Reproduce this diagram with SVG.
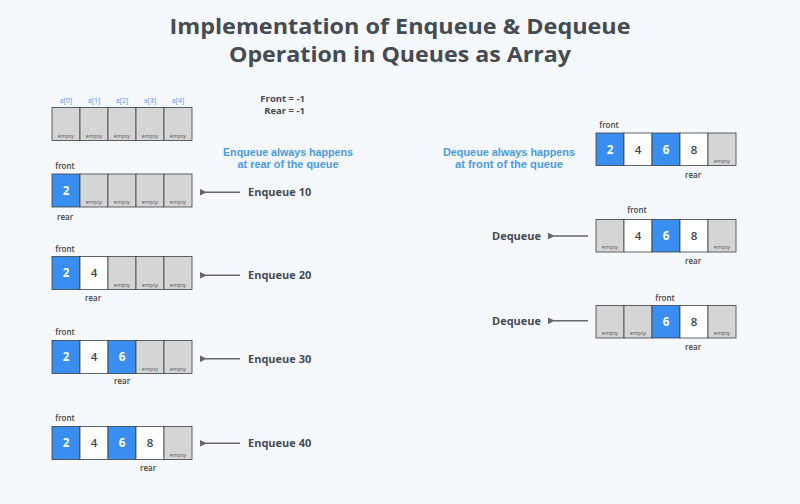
<svg xmlns="http://www.w3.org/2000/svg" width="800" height="504" viewBox="0 0 800 504">
<defs>
<style>
.bg{fill:#f5f8fd}
.c{stroke:#3a3f45;stroke-width:0.8}
.e{fill:#d5d5d5}
.b{fill:#3a8ef0}
.w{fill:#ffffff}
.t{font-family:"Open Sans","Liberation Sans",sans-serif}
.title{font-size:22px;font-weight:700;fill:#464b52;text-anchor:middle}
.idx{font-size:7px;fill:#4a9ae8;text-anchor:middle}
.emp{font-size:5.5px;fill:#555;text-anchor:middle}
.lab{font-size:8px;font-weight:600;fill:#444;text-anchor:middle}
.vb{font-size:11.5px;font-weight:700;fill:#fff;text-anchor:middle}
.vw{font-size:11.5px;font-weight:600;fill:#444;text-anchor:middle}
.op{font-size:11px;font-weight:700;fill:#464b52}
.fr{font-size:9.5px;font-weight:700;fill:#464b52;text-anchor:end}
.note{font-family:"Liberation Sans",Arial,sans-serif;font-size:10px;font-weight:700;fill:#4a9ae8;text-anchor:middle}
.arr{stroke:#666;stroke-width:1.5;fill:none}
</style>
<marker id="ah" markerWidth="8" markerHeight="8" refX="1" refY="4" orient="auto" markerUnits="userSpaceOnUse">
<path d="M0,4 L7,0.8 L7,7.2 Z" fill="#666"/>
</marker>
</defs>
<rect class="bg" x="0" y="0" width="800" height="504"/>
<g id="title">
<text class="t title" x="400" y="34" textLength="461" lengthAdjust="spacingAndGlyphs">Implementation of Enqueue &amp; Dequeue</text>
<text class="t title" x="400" y="62" textLength="342" lengthAdjust="spacingAndGlyphs">Operation in Queues as Array</text>
</g>
<g id="state-initial">
<text class="t idx" x="66" y="103">a[0]</text>
<text class="t idx" x="94" y="103">a[1]</text>
<text class="t idx" x="122" y="103">a[2]</text>
<text class="t idx" x="150" y="103">a[3]</text>
<text class="t idx" x="178" y="103">a[4]</text>
<rect class="c e" x="52" y="107.5" width="28" height="33"/>
<rect class="c e" x="80" y="107.5" width="28" height="33"/>
<rect class="c e" x="108" y="107.5" width="28" height="33"/>
<rect class="c e" x="136" y="107.5" width="28" height="33"/>
<rect class="c e" x="164" y="107.5" width="28" height="33"/>
<text class="t emp" x="66" y="137.5">empty</text>
<text class="t emp" x="94" y="137.5">empty</text>
<text class="t emp" x="122" y="137.5">empty</text>
<text class="t emp" x="150" y="137.5">empty</text>
<text class="t emp" x="178" y="137.5">empty</text>
</g>
<g id="pointers-initial">
<text class="t fr" x="305" y="101.8">Front = -1</text>
<text class="t fr" x="305" y="113.8">Rear = -1</text>
</g>
<g id="note-enqueue">
<text class="note" x="288" y="156.3" textLength="130" lengthAdjust="spacingAndGlyphs">Enqueue always happens</text>
<text class="note" x="288" y="168" textLength="101" lengthAdjust="spacingAndGlyphs">at rear of the queue</text>
</g>
<g id="state-enq10">
<text class="t lab" x="65" y="169">front</text>
<rect class="c b" x="52" y="174" width="28" height="33"/>
<rect class="c e" x="80" y="174" width="28" height="33"/>
<rect class="c e" x="108" y="174" width="28" height="33"/>
<rect class="c e" x="136" y="174" width="28" height="33"/>
<rect class="c e" x="164" y="174" width="28" height="33"/>
<text class="t vb" x="66" y="194.5">2</text>
<text class="t emp" x="94" y="204">empty</text>
<text class="t emp" x="122" y="204">empty</text>
<text class="t emp" x="150" y="204">empty</text>
<text class="t emp" x="178" y="204">empty</text>
<text class="t lab" x="65" y="219.5">rear</text>
</g>
<g id="state-enq20">
<text class="t lab" x="65" y="251.5">front</text>
<rect class="c b" x="52" y="256.5" width="28" height="33"/>
<rect class="c w" x="80" y="256.5" width="28" height="33"/>
<rect class="c e" x="108" y="256.5" width="28" height="33"/>
<rect class="c e" x="136" y="256.5" width="28" height="33"/>
<rect class="c e" x="164" y="256.5" width="28" height="33"/>
<text class="t vb" x="66" y="277">2</text>
<text class="t vw" x="94" y="277">4</text>
<text class="t emp" x="122" y="286.5">empty</text>
<text class="t emp" x="150" y="286.5">empty</text>
<text class="t emp" x="178" y="286.5">empty</text>
<text class="t lab" x="93" y="301">rear</text>
</g>
<g id="state-enq30">
<text class="t lab" x="65" y="335">front</text>
<rect class="c b" x="52" y="340.5" width="28" height="33"/>
<rect class="c w" x="80" y="340.5" width="28" height="33"/>
<rect class="c b" x="108" y="340.5" width="28" height="33"/>
<rect class="c e" x="136" y="340.5" width="28" height="33"/>
<rect class="c e" x="164" y="340.5" width="28" height="33"/>
<text class="t vb" x="66" y="361">2</text>
<text class="t vw" x="94" y="361">4</text>
<text class="t vb" x="122" y="361">6</text>
<text class="t emp" x="150" y="370.5">empty</text>
<text class="t emp" x="178" y="370.5">empty</text>
<text class="t lab" x="122" y="383.5">rear</text>
</g>
<g id="state-enq40">
<text class="t lab" x="65" y="421">front</text>
<rect class="c b" x="52" y="426.5" width="28" height="33"/>
<rect class="c w" x="80" y="426.5" width="28" height="33"/>
<rect class="c b" x="108" y="426.5" width="28" height="33"/>
<rect class="c w" x="136" y="426.5" width="28" height="33"/>
<rect class="c e" x="164" y="426.5" width="28" height="33"/>
<text class="t vb" x="66" y="447">2</text>
<text class="t vw" x="94" y="447">4</text>
<text class="t vb" x="122" y="447">6</text>
<text class="t vw" x="150" y="447">8</text>
<text class="t emp" x="178" y="456.5">empty</text>
<text class="t lab" x="148" y="471">rear</text>
</g>
<g id="op-enq10"><text class="t op" x="248" y="196">Enqueue 10</text></g>
<g id="op-enq20"><text class="t op" x="248" y="279">Enqueue 20</text></g>
<g id="op-enq30"><text class="t op" x="248" y="362.5">Enqueue 30</text></g>
<g id="op-enq40"><text class="t op" x="248" y="447">Enqueue 40</text></g>
<g id="note-dequeue">
<text class="note" x="509" y="156.3" textLength="132" lengthAdjust="spacingAndGlyphs">Dequeue always happens</text>
<text class="note" x="509" y="168" textLength="108" lengthAdjust="spacingAndGlyphs">at front of the queue</text>
</g>
<g id="state-full">
<text class="t lab" x="609" y="128">front</text>
<rect class="c b" x="596" y="133" width="28" height="32.5"/>
<rect class="c w" x="624" y="133" width="28" height="32.5"/>
<rect class="c b" x="652" y="133" width="28" height="32.5"/>
<rect class="c w" x="680" y="133" width="28" height="32.5"/>
<rect class="c e" x="708" y="133" width="28" height="32.5"/>
<text class="t vb" x="610" y="153.5">2</text>
<text class="t vw" x="638" y="153.5">4</text>
<text class="t vb" x="666" y="153.5">6</text>
<text class="t vw" x="694" y="153.5">8</text>
<text class="t emp" x="722" y="162.5">empty</text>
<text class="t lab" x="693" y="178">rear</text>
</g>
<g id="state-deq1">
<text class="t lab" x="637" y="213">front</text>
<rect class="c e" x="596" y="219.5" width="28" height="32.5"/>
<rect class="c w" x="624" y="219.5" width="28" height="32.5"/>
<rect class="c b" x="652" y="219.5" width="28" height="32.5"/>
<rect class="c w" x="680" y="219.5" width="28" height="32.5"/>
<rect class="c e" x="708" y="219.5" width="28" height="32.5"/>
<text class="t emp" x="610" y="249">empty</text>
<text class="t vw" x="638" y="239.5">4</text>
<text class="t vb" x="666" y="239.5">6</text>
<text class="t vw" x="694" y="239.5">8</text>
<text class="t emp" x="722" y="249">empty</text>
<text class="t lab" x="693" y="264">rear</text>
</g>
<g id="state-deq2">
<text class="t lab" x="665" y="301">front</text>
<rect class="c e" x="596" y="305.5" width="28" height="32.5"/>
<rect class="c e" x="624" y="305.5" width="28" height="32.5"/>
<rect class="c b" x="652" y="305.5" width="28" height="32.5"/>
<rect class="c w" x="680" y="305.5" width="28" height="32.5"/>
<rect class="c e" x="708" y="305.5" width="28" height="32.5"/>
<text class="t emp" x="610" y="335">empty</text>
<text class="t emp" x="638" y="335">empty</text>
<text class="t vb" x="666" y="325.5">6</text>
<text class="t vw" x="694" y="325.5">8</text>
<text class="t emp" x="722" y="335">empty</text>
<text class="t lab" x="693" y="350">rear</text>
</g>
<g id="op-deq1"><text class="t op" x="492" y="240">Dequeue</text></g>
<g id="op-deq2"><text class="t op" x="492" y="324.5">Dequeue</text></g>
<g id="connectors">
<line class="arr" x1="240" y1="192.3" x2="206" y2="192.3" marker-end="url(#ah)"/>
<line class="arr" x1="240" y1="275.3" x2="206" y2="275.3" marker-end="url(#ah)"/>
<line class="arr" x1="240" y1="358.7" x2="206" y2="358.7" marker-end="url(#ah)"/>
<line class="arr" x1="240" y1="443.3" x2="206" y2="443.3" marker-end="url(#ah)"/>
<line class="arr" x1="588" y1="236" x2="554" y2="236" marker-end="url(#ah)"/>
<line class="arr" x1="588" y1="320.7" x2="554" y2="320.7" marker-end="url(#ah)"/>
</g>
</svg>
